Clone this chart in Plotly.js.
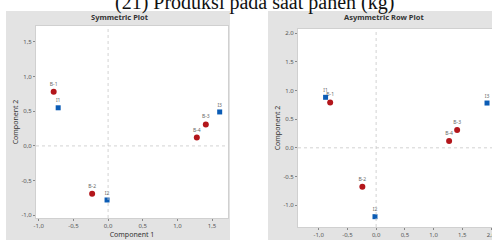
<!DOCTYPE html>
<html><head><meta charset="utf-8">
<script src="https://cdn.plot.ly/plotly-3.0.1.min.js"></script>
<style>html,body{margin:0;padding:0;overflow:hidden;background:#fff;width:492px;height:240px}#c{width:510px;height:240px}</style>
</head><body><div id="c"></div>
<script>
const chartTitle = '(21) Produksi pada saat panen (kg)';
const leftTitle = 'Symmetric Plot';
const rightTitle = 'Asymmetric Row Plot';
const rowLabels = ['B-1','B-2','B-3','B-4'];
const colLabels = ['I1','I2','I3'];
const symRowX = [-0.785,-0.23,1.41,1.28];
const symRowY = [0.78,-0.69,0.31,0.12];
const symColX = [-0.72,-0.015,1.61];
const symColY = [0.55,-0.78,0.49];
const asymRowX = [-0.80,-0.24,1.41,1.27];
const asymRowY = [0.79,-0.68,0.31,0.12];
const asymColX = [-0.88,-0.02,1.93];
const asymColY = [0.88,-1.20,0.78];
const leftTickVals = [-1,-0.5,0,0.5,1,1.5];
const leftTickText = ['-1,0','-0,5','0,0','0,5','1,0','1,5'];
const rightXTickVals = [-1,-0.5,0,0.5,1,1.5,2];
const rightXTickText = ['-1,0','-0,5','0,0','0,5','1,0','1,5','2,0'];
const rightYTickVals = [-1,-0.5,0,0.5,1,1.5,2];
const rightYTickText = ['-1.0','-0.5','0.0','0.5','1.0','1.5','2.0'];

const W = 510, H = 240;
const RED = '#b3161b', BLUE = '#0b5cb5';
const lblFont = {family:'Noto Sans, sans-serif', size:5, color:'#666'};
function tr(x,y,t,kind,xa,ya){
  return {x:x,y:y,text:t,mode:'markers+text',textposition:'top center',textfont:lblFont,
    xaxis:xa,yaxis:ya,cliponaxis:false,hoverinfo:'skip',
    marker: kind==='row'?{symbol:'circle',size:6,color:RED}:{symbol:'square',size:5,color:BLUE}};
}
const data = [
  tr(symRowX,symRowY,rowLabels,'row','x','y'),
  tr(symColX,symColY,colLabels,'col','x','y'),
  tr(asymRowX,asymRowY,rowLabels,'row','x2','y2'),
  tr(asymColX,asymColY,colLabels,'col','x2','y2')
];
const tickFont = {family:'Noto Sans, sans-serif', size:6, color:'#555'};
const axTitleFont = {family:'Noto Sans, sans-serif', size:7, color:'#333'};
function ax(domain, range, tv, tt, title, standoff){
  return {domain:domain, range:range, tickvals:tv, ticktext:tt, tickfont:tickFont,
    ticks:'outside', ticklen:2, tickcolor:'#888', showgrid:false, zeroline:false,
    showline:true, mirror:true, linecolor:'#d0d0d0', linewidth:1, fixedrange:true,
    title:{text:title, font:axTitleFont, standoff:standoff}, automargin:false};
}
const layout = {
  width:W, height:H, margin:{l:0,r:0,t:0,b:0}, paper_bgcolor:'#fff', plot_bgcolor:'#fff',
  showlegend:false,
  xaxis: ax([36/W,228/W],[-1.04,1.73],leftTickVals,leftTickText,'Component 1',2),
  yaxis: ax([1-218/H,1-26/H],[-1.04,1.73],leftTickVals,leftTickText,'Component 2',1),
  xaxis2: Object.assign(ax([298/W,1],[-1.36,2.33],rightXTickVals,rightXTickText,'',2),{anchor:'y2'}),
  yaxis2: Object.assign(ax([1-227/H,1-29/H],[-1.38,2.07],rightYTickVals,rightYTickText,'Component 2',1),{anchor:'x2'}),
  shapes:[
    {type:'rect',xref:'paper',yref:'paper',x0:6/W,x1:230/W,y0:0,y1:1-11/H,fillcolor:'#e3e3e3',line:{width:0},layer:'below'},
    {type:'rect',xref:'paper',yref:'paper',x0:268/W,x1:1,y0:0,y1:1-11/H,fillcolor:'#e3e3e3',line:{width:0},layer:'below'},
    {type:'rect',xref:'x domain',yref:'y domain',x0:0,x1:1,y0:0,y1:1,fillcolor:'#fff',line:{width:0},layer:'below'},
    {type:'rect',xref:'x2 domain',yref:'y2 domain',x0:0,x1:1,y0:0,y1:1,fillcolor:'#fff',line:{width:0},layer:'below'},
    {type:'line',xref:'x',yref:'y domain',x0:0,x1:0,y0:0,y1:1,line:{color:'#c8c8c8',width:0.8,dash:'dot'}},
    {type:'line',xref:'x domain',yref:'y',x0:0,x1:1,y0:0,y1:0,line:{color:'#c8c8c8',width:0.8,dash:'dot'}},
    {type:'line',xref:'x2',yref:'y2 domain',x0:0,x1:0,y0:0,y1:1,line:{color:'#c8c8c8',width:0.8,dash:'dot'}},
    {type:'line',xref:'x2 domain',yref:'y2',x0:0,x1:1,y0:0,y1:0,line:{color:'#c8c8c8',width:0.8,dash:'dot'}}
  ],
  annotations:[
    {text:chartTitle,xref:'paper',yref:'paper',x:254/W,y:1-3/H,xanchor:'center',yanchor:'middle',showarrow:false,
     font:{family:'Liberation Serif, serif',size:20,color:'#111'}},
    {text:'<b>'+leftTitle+'</b>',xref:'paper',yref:'paper',x:120/W,y:1-17/H,xanchor:'center',yanchor:'middle',showarrow:false,
     font:{family:'Noto Sans, sans-serif',size:7.5,color:'#333'}},
    {text:'<b>'+rightTitle+'</b>',xref:'paper',yref:'paper',x:384/W,y:1-17/H,xanchor:'center',yanchor:'middle',showarrow:false,
     font:{family:'Noto Sans, sans-serif',size:7.5,color:'#333'}}
  ]
};
Plotly.newPlot('c', data, layout, {staticPlot:true, displayModeBar:false});
</script></body></html>
